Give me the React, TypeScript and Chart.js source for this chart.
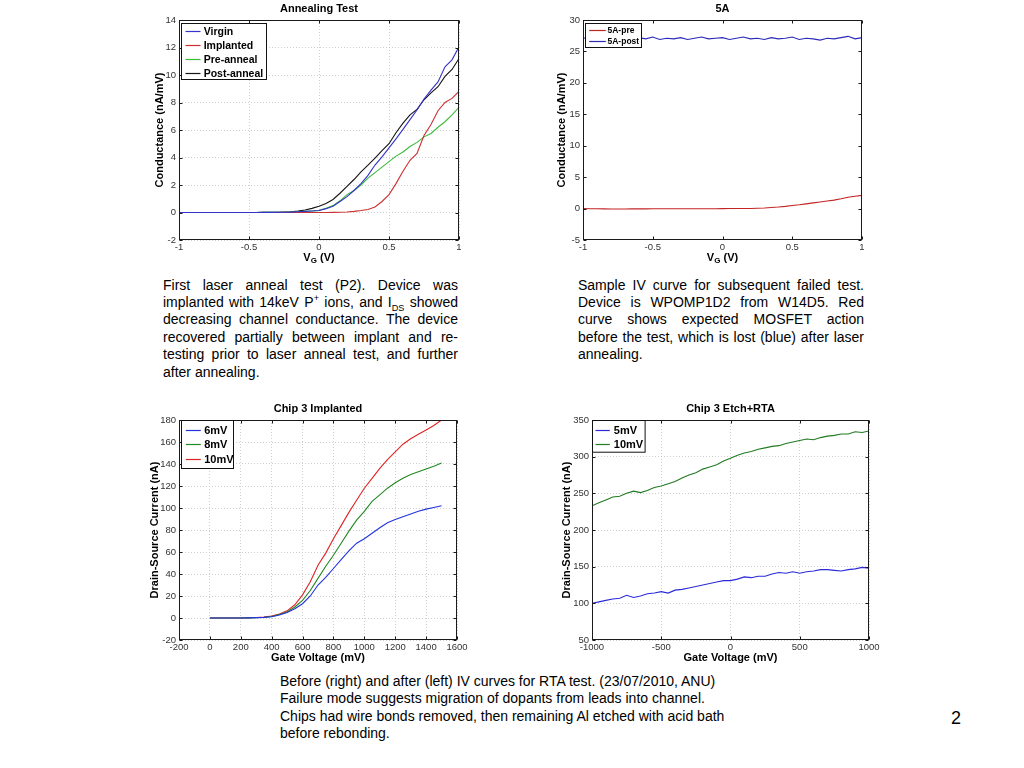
import React, { useEffect, useRef } from "react";
import { Chart, registerables } from "chart.js";

Chart.register(...registerables);

const FONT = "'Liberation Sans', Arial, Helvetica, sans-serif";

// ---------------- Panel 1: Annealing Test ----------------
const annealVG = [-1, -0.95, -0.9, -0.85, -0.8, -0.75, -0.7, -0.65, -0.6, -0.55, -0.5, -0.45, -0.4, -0.35, -0.3, -0.25, -0.2, -0.15, -0.1, -0.05, 0, 0.05, 0.1, 0.15, 0.2, 0.25, 0.3, 0.35, 0.4, 0.45, 0.5, 0.55, 0.6, 0.65, 0.7, 0.75, 0.8, 0.85, 0.9, 0.95, 1];
const virgin = [0, 0, 0, 0, 0, 0, 0, 0, 0, 0, 0, 0, 0.01, 0.01, 0.01, 0.02, 0.03, 0.05, 0.08, 0.11, 0.15, 0.28, 0.45, 0.8, 1.15, 1.6, 2.1, 2.7, 3.45, 4.05, 4.7, 5.35, 6.05, 6.75, 7.45, 8.25, 8.9, 9.5, 10.6, 11.1, 12.05];
const implanted = [0, 0, 0, 0, 0, 0, 0, 0, 0, 0, 0, 0, 0, 0, 0, 0, 0, 0, 0, 0, 0, 0, 0.01, 0.02, 0.04, 0.08, 0.14, 0.22, 0.4, 0.8, 1.3, 2.1, 3.0, 3.8, 4.3, 5.6, 6.4, 7.4, 8.0, 8.3, 8.8];
const preAnneal = [0, 0, 0, 0, 0, 0, 0, 0, 0, 0, 0, 0, 0.01, 0.01, 0.01, 0.02, 0.03, 0.05, 0.08, 0.11, 0.15, 0.3, 0.5, 0.85, 1.3, 1.6, 2.0, 2.5, 2.9, 3.3, 3.7, 4.1, 4.4, 4.8, 5.1, 5.5, 5.75, 6.2, 6.6, 7.1, 7.65];
const postAnneal = [0, 0, 0, 0, 0, 0, 0, 0, 0, 0, 0, 0, 0.01, 0.02, 0.02, 0.03, 0.05, 0.1, 0.18, 0.3, 0.45, 0.65, 0.95, 1.4, 1.9, 2.4, 2.95, 3.45, 3.95, 4.5, 5.0, 5.8, 6.5, 7.1, 7.5, 8.2, 8.7, 9.15, 9.9, 10.4, 11.2];

// ---------------- Panel 2: 5A ----------------
const vg5A = [-1, -0.95, -0.9, -0.85, -0.8, -0.75, -0.7, -0.65, -0.6, -0.55, -0.5, -0.45, -0.4, -0.35, -0.3, -0.25, -0.2, -0.15, -0.1, -0.05, 0, 0.05, 0.1, 0.15, 0.2, 0.25, 0.3, 0.35, 0.4, 0.45, 0.5, 0.55, 0.6, 0.65, 0.7, 0.75, 0.8, 0.85, 0.9, 0.95, 1];
const pre5A = [0, -0.02, -0.04, -0.05, -0.06, -0.06, -0.06, -0.05, -0.05, -0.05, -0.04, -0.04, -0.04, -0.03, -0.03, -0.03, -0.03, -0.02, -0.02, -0.02, -0.01, 0, 0, 0.01, 0.02, 0.05, 0.1, 0.18, 0.25, 0.35, 0.48, 0.6, 0.75, 0.9, 1.05, 1.2, 1.35, 1.55, 1.8, 1.95, 2.1];
const post5A = [27.1, 27.2, 26.9, 27.3, 27.0, 27.2, 26.8, 27.1, 27.2, 27.0, 27.3, 26.9, 27.1, 27.0, 27.2, 26.9, 27.1, 27.3, 27.0, 27.1, 27.2, 26.9, 27.1, 27.3, 27.0, 27.1, 26.9, 27.2, 27.0, 27.1, 27.3, 26.9, 27.1, 27.0, 26.8, 27.1, 27.0, 27.2, 27.4, 27.0, 27.2];

// ---------------- Panel 3: Chip 3 Implanted ----------------
const gateImpl = [0, 50, 100, 150, 200, 250, 300, 350, 400, 450, 500, 550, 600, 650, 700, 750, 800, 850, 900, 950, 1000, 1050, 1100, 1150, 1200, 1250, 1300, 1350, 1400, 1450, 1500];
const impl6mV = [0, 0, 0, 0, 0.05, 0.15, 0.3, 0.6, 1.2, 2.8, 5, 8.5, 13, 20, 30, 37, 45, 53, 61, 68, 72, 77, 82, 86.5, 89.5, 92, 94.5, 97, 99, 100.5, 102];
const impl8mV = [0, 0, 0, 0, 0.05, 0.15, 0.35, 0.7, 1.4, 3.2, 5.5, 10, 16, 25, 36, 47, 57, 68, 79, 89, 97, 106, 112, 118, 123, 127, 130.5, 133, 135.5, 138, 141];
const impl10mV = [0, 0, 0, 0, 0.05, 0.2, 0.4, 0.8, 1.8, 3.6, 6.5, 12, 21, 33, 48, 59, 72, 84, 96, 107, 118, 127, 136, 144, 151, 158, 163, 167, 171, 175, 180];

// ---------------- Panel 4: Chip 3 Etch+RTA ----------------
const gateEtch = [-1000, -950, -900, -850, -800, -750, -700, -650, -600, -550, -500, -450, -400, -350, -300, -250, -200, -150, -100, -50, 0, 50, 100, 150, 200, 250, 300, 350, 400, 450, 500, 550, 600, 650, 700, 750, 800, 850, 900, 950, 1000];
const etch5mV = [100, 102, 104, 106, 107, 111, 108, 110, 113, 114, 116, 114, 118, 119, 121, 123, 125, 127, 129, 131, 131, 133, 136, 135, 137, 137, 140, 142, 141, 143, 141, 143, 144, 146, 146, 145, 144, 146, 147, 149, 148];
const etch10mV = [233, 237, 241, 245, 246, 250, 253, 251, 254, 258, 260, 263, 266, 271, 275, 278, 283, 286, 289, 294, 298, 302, 305, 307, 310, 312, 314, 315, 318, 320, 322, 324, 323, 326, 328, 329, 331, 331, 334, 333, 335];

type Series = { label: string; color: string; xs: number[]; ys: number[] };
type LegendCfg = { dx: number; dy: number; w: number; h: number; row0: number; rowH: number; lineX: number; lineLen: number; textX: number; font: number };
type Panel = {
  canvas: { left: number; top: number; width: number; height: number };
  plot: { left: number; top: number; right: number; bottom: number };
  title: string;
  titleY: number;
  yTitle: string;
  yTitleX: number;
  xTitle: string;
  xSub?: string;
  xRest?: string;
  xTitleY: number;
  x: [number, number, number];
  y: [number, number, number];
  grid: boolean;
  series: Series[];
  legend: LegendCfg;
};

const panels: Panel[] = [
  {
    canvas: { left: 130, top: 0, width: 345, height: 268 },
    plot: { left: 179, top: 20, right: 459, bottom: 240 },
    title: "Annealing Test",
    titleY: 9.3,
    yTitle: "Conductance (nA/mV)",
    yTitleX: 160,
    xTitle: "V",
    xSub: "G",
    xRest: " (V)",
    xTitleY: 257.5,
    x: [-1, 1, 0.5],
    y: [-2, 14, 2],
    grid: true,
    series: [
      { label: "Virgin", color: "#3434c8", xs: annealVG, ys: virgin },
      { label: "Implanted", color: "#cc3030", xs: annealVG, ys: implanted },
      { label: "Pre-anneal", color: "#3cba3c", xs: annealVG, ys: preAnneal },
      { label: "Post-anneal", color: "#151515", xs: annealVG, ys: postAnneal },
    ],
    legend: { dx: 2, dy: 2.7, w: 85, h: 56, row0: 7.3, rowH: 14, lineX: 4, lineLen: 15, textX: 22.2, font: 10.5 },
  },
  {
    canvas: { left: 535, top: 0, width: 345, height: 268 },
    plot: { left: 583, top: 20, right: 862, bottom: 240 },
    title: "5A",
    titleY: 9.3,
    yTitle: "Conductance (nA/mV)",
    yTitleX: 562,
    xTitle: "V",
    xSub: "G",
    xRest: " (V)",
    xTitleY: 257.7,
    x: [-1, 1, 0.5],
    y: [-5, 30, 5],
    grid: false,
    series: [
      { label: "5A-pre", color: "#c42424", xs: vg5A, ys: pre5A },
      { label: "5A-post", color: "#2a2ab8", xs: vg5A, ys: post5A },
    ],
    legend: { dx: 1.7, dy: 2.7, w: 56, h: 24, row0: 6.3, rowH: 11.5, lineX: 3.7, lineLen: 16.6, textX: 22, font: 8.5 },
  },
  {
    canvas: { left: 130, top: 400, width: 345, height: 268 },
    plot: { left: 179, top: 420, right: 457, bottom: 640 },
    title: "Chip 3 Implanted",
    titleY: 409,
    yTitle: "Drain-Source Current (nA)",
    yTitleX: 155,
    xTitle: "Gate Voltage (mV)",
    xTitleY: 657.7,
    x: [-200, 1600, 200],
    y: [-20, 180, 20],
    grid: true,
    series: [
      { label: "6mV", color: "#2233dd", xs: gateImpl, ys: impl6mV },
      { label: "8mV", color: "#228822", xs: gateImpl, ys: impl8mV },
      { label: "10mV", color: "#e02424", xs: gateImpl, ys: impl10mV },
    ],
    legend: { dx: 1.7, dy: 0, w: 52, h: 48, row0: 9.3, rowH: 14.5, lineX: 4.3, lineLen: 15, textX: 22.7, font: 11 },
  },
  {
    canvas: { left: 540, top: 400, width: 345, height: 268 },
    plot: { left: 592, top: 420, right: 869, bottom: 640 },
    title: "Chip 3 Etch+RTA",
    titleY: 409,
    yTitle: "Drain-Source Current (nA)",
    yTitleX: 567,
    xTitle: "Gate Voltage (mV)",
    xTitleY: 657.7,
    x: [-1000, 1000, 500],
    y: [50, 350, 50],
    grid: true,
    series: [
      { label: "5mV", color: "#2a2ad8", xs: gateEtch, ys: etch5mV },
      { label: "10mV", color: "#227a22", xs: gateEtch, ys: etch10mV },
    ],
    legend: { dx: 0, dy: 0, w: 52.6, h: 31.7, row0: 9, rowH: 14.3, lineX: 3, lineLen: 14.3, textX: 21.3, font: 11 },
  },
];

function ChartPanel({ p }: { p: Panel }) {
  const ref = useRef<HTMLCanvasElement | null>(null);
  useEffect(() => {
    if (!ref.current) return;
    const c = p.canvas;
    const lh = 11 * 1.2;
    const titleTop = p.titleY - c.top - lh / 2;
    const titleBottom = p.plot.top - c.top - titleTop - lh;
    const tickFont = { family: FONT, size: 9.5 };
    const tickColor = "#333333";

    const overlay = {
      id: "matlabFrame",
      afterDraw(chart: any) {
        const ctx = chart.ctx;
        const a = chart.chartArea;
        const xs = chart.scales.x;
        const ys = chart.scales.y;
        const L = Math.round(a.left) + 0.5;
        const R = Math.round(a.right) - 0.5;
        const T = Math.round(a.top) + 0.5;
        const B = Math.round(a.bottom) - 0.5;
        ctx.save();
        ctx.strokeStyle = "#1a1a1a";
        ctx.lineWidth = 1;
        ctx.beginPath();
        xs.ticks.forEach((t: any) => {
          const px = Math.round(xs.getPixelForValue(t.value)) + 0.5;
          ctx.moveTo(px, B);
          ctx.lineTo(px, B - 3);
          ctx.moveTo(px, T);
          ctx.lineTo(px, T + 3);
        });
        ys.ticks.forEach((t: any) => {
          const py = Math.round(ys.getPixelForValue(t.value)) + 0.5;
          ctx.moveTo(L, py);
          ctx.lineTo(L + 3, py);
          ctx.moveTo(R, py);
          ctx.lineTo(R - 3, py);
        });
        ctx.stroke();
        ctx.strokeRect(L, T, R - L, B - T);

        if (p.xSub) {
          const cy = p.xTitleY - c.top;
          const big = `bold 11px ${FONT}`;
          const small = `bold 8px ${FONT}`;
          ctx.textBaseline = "middle";
          ctx.fillStyle = "#000";
          ctx.font = big;
          const w1 = ctx.measureText(p.xTitle).width;
          const w3 = ctx.measureText(p.xRest || "").width;
          ctx.font = small;
          const w2 = ctx.measureText(p.xSub).width;
          const x0 = (a.left + a.right) / 2 - (w1 + w2 + w3) / 2;
          ctx.textAlign = "left";
          ctx.font = big;
          ctx.fillText(p.xTitle, x0, cy);
          ctx.font = small;
          ctx.fillText(p.xSub, x0 + w1, cy + 3.5);
          ctx.font = big;
          ctx.fillText(p.xRest || "", x0 + w1 + w2, cy);
        }

        const lg = p.legend;
        const bx = Math.round(a.left + lg.dx) + 0.5;
        const by = Math.round(a.top + lg.dy) + 0.5;
        ctx.fillStyle = "#ffffff";
        ctx.fillRect(bx, by, lg.w, lg.h);
        ctx.strokeStyle = "#111";
        ctx.strokeRect(bx, by, lg.w, lg.h);
        ctx.font = `bold ${lg.font}px ${FONT}`;
        ctx.textBaseline = "middle";
        ctx.textAlign = "left";
        p.series.forEach((s, i) => {
          const ry = Math.round(by + lg.row0 + i * lg.rowH) + 0.5;
          ctx.strokeStyle = s.color;
          ctx.lineWidth = 1.2;
          ctx.beginPath();
          ctx.moveTo(bx + lg.lineX, ry);
          ctx.lineTo(bx + lg.lineX + lg.lineLen, ry);
          ctx.stroke();
          ctx.fillStyle = "#000";
          ctx.fillText(s.label, bx + lg.textX, ry + 0.5);
        });
        ctx.restore();
      },
    };

    const chart = new Chart(ref.current, {
      type: "line",
      data: {
        datasets: p.series.map((s) => ({
          label: s.label,
          data: s.xs.map((x, i) => ({ x, y: s.ys[i] })),
          borderColor: s.color,
          backgroundColor: s.color,
          borderWidth: 1.1,
          pointRadius: 0,
          tension: 0,
          fill: false,
        })),
      },
      options: {
        animation: false,
        responsive: false,
        maintainAspectRatio: false,
        devicePixelRatio: 1,
        layout: { padding: { left: 0, top: 0, right: c.left + c.width - p.plot.right, bottom: 0 } },
        plugins: {
          legend: { display: false },
          tooltip: { enabled: false },
          title: {
            display: true,
            fullSize: false,
            text: p.title,
            color: "#000",
            font: { family: FONT, size: 11, weight: "bold" },
            padding: { top: titleTop, bottom: titleBottom },
          },
        },
        scales: {
          x: {
            type: "linear",
            min: p.x[0],
            max: p.x[1],
            ticks: {
              stepSize: p.x[2],
              autoSkip: false,
              maxRotation: 0,
              minRotation: 0,
              font: tickFont,
              color: tickColor,
              padding: 1.5,
              callback: (v: any) => String(Math.round(Number(v) * 100) / 100),
            },
            grid: { display: p.grid, color: "#cfcfcf", lineWidth: 1, drawTicks: false },
            border: { display: false, dash: [1, 2] },
            title: p.xSub
              ? { display: false }
              : {
                  display: true,
                  text: p.xTitle,
                  color: "#000",
                  font: { family: FONT, size: 11, weight: "bold" },
                  padding: { top: 0, bottom: c.top + c.height - p.xTitleY - lh / 2 },
                },
            afterFit: (s: any) => {
              s.height = c.top + c.height - p.plot.bottom;
            },
          },
          y: {
            type: "linear",
            min: p.y[0],
            max: p.y[1],
            ticks: {
              stepSize: p.y[2],
              font: tickFont,
              color: tickColor,
              padding: 3,
              callback: (v: any) => String(Math.round(Number(v) * 100) / 100),
            },
            grid: { display: p.grid, color: "#cfcfcf", lineWidth: 1, drawTicks: false },
            border: { display: false, dash: [1, 2] },
            title: {
              display: true,
              text: p.yTitle,
              color: "#000",
              font: { family: FONT, size: 11, weight: "bold" },
              padding: { top: p.yTitleX - c.left - lh / 2, bottom: 0 },
            },
            afterFit: (s: any) => {
              s.width = p.plot.left - c.left;
            },
          },
        },
      },
      plugins: [overlay],
    } as any);
    return () => chart.destroy();
  }, [p]);

  return (
    <canvas
      ref={ref}
      width={p.canvas.width}
      height={p.canvas.height}
      style={{
        position: "absolute",
        left: p.canvas.left,
        top: p.canvas.top,
        width: p.canvas.width,
        height: p.canvas.height,
      }}
    />
  );
}

const textBase: React.CSSProperties = {
  position: "absolute",
  fontFamily: FONT,
  fontSize: 14,
  lineHeight: "17.4px",
  color: "#000",
};
const supStyle: React.CSSProperties = { fontSize: "0.65em", verticalAlign: "super", lineHeight: 0 };
const subStyle: React.CSSProperties = { fontSize: "0.65em", verticalAlign: "sub", lineHeight: 0 };

function JLine({ children, last }: { children: React.ReactNode; last?: boolean }) {
  return (
    <div style={{ whiteSpace: "nowrap", textAlign: last ? "left" : "justify", textAlignLast: last ? "left" : "justify" } as React.CSSProperties}>
      {children}
    </div>
  );
}

export default function App() {
  return (
    <div style={{ position: "absolute", left: 0, top: 0, width: 1024, height: 768, background: "#fff", overflow: "hidden" }}>
      {panels.map((p, i) => (
        <ChartPanel key={i} p={p} />
      ))}
      <div style={{ ...textBase, left: 163, top: 276.5, width: 295 }}>
        <JLine>First laser anneal test (P2). Device was</JLine>
        <JLine>
          implanted with 14keV P<span style={supStyle}>+</span> ions, and I<span style={subStyle}>DS</span> showed
        </JLine>
        <JLine>decreasing channel conductance. The device</JLine>
        <JLine>recovered partially between implant and re-</JLine>
        <JLine>testing prior to laser anneal test, and further</JLine>
        <JLine last>after annealing.</JLine>
      </div>
      <div style={{ ...textBase, left: 578, top: 276.5, width: 286 }}>
        <JLine>Sample IV curve for subsequent failed test.</JLine>
        <JLine>Device is WPOMP1D2 from W14D5. Red</JLine>
        <JLine>curve shows expected MOSFET action</JLine>
        <JLine>before the test, which is lost (blue) after laser</JLine>
        <JLine last>annealing.</JLine>
      </div>
      <div style={{ ...textBase, left: 280, top: 673, width: 520 }}>
        <div>Before (right) and after (left) IV curves for RTA test. (23/07/2010, ANU)</div>
        <div>Failure mode suggests migration of dopants from leads into channel.</div>
        <div>Chips had wire bonds removed, then remaining Al etched with acid bath</div>
        <div>before rebonding.</div>
      </div>
      <div style={{ ...textBase, left: 951, top: 706, fontSize: 18, lineHeight: "24px" }}>2</div>
    </div>
  );
}
